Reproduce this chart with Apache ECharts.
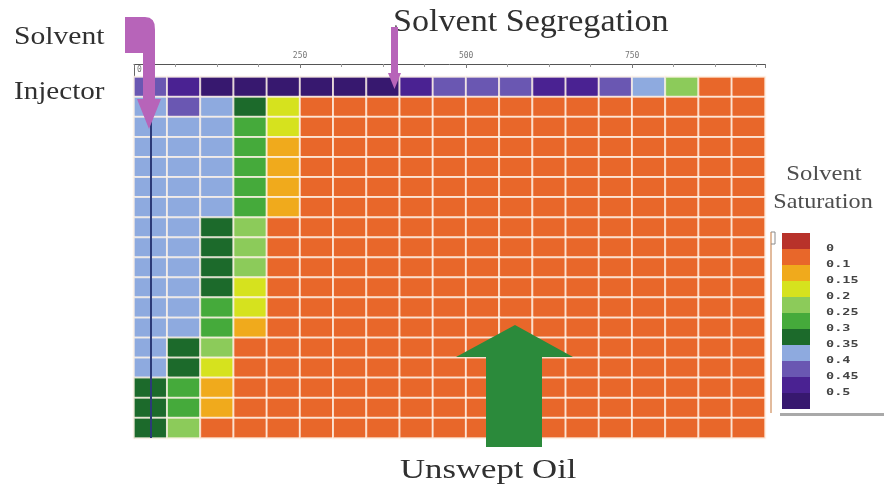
<!DOCTYPE html>
<html>
<head>
<meta charset="utf-8">
<script src="https://cdn.jsdelivr.net/npm/echarts@6/dist/echarts.min.js"></script>
<style>
  html, body { margin: 0; padding: 0; background: #ffffff; }
  #chart { width: 885px; height: 488px; }
</style>
</head>
<body>
<div id="chart"></div>
<script>
// Saturation band boundaries (legend labels) and band colours, top of legend first
const bandLabels = ['0', '0.1', '0.15', '0.2', '0.25', '0.3', '0.35', '0.4', '0.45', '0.5'];
const bandBounds = [0, 0.1, 0.15, 0.2, 0.25, 0.3, 0.35, 0.4, 0.45, 0.5];
const bandColors = ['#b8322a', '#e8672a', '#f0aa1c', '#d6e21e', '#8ccb5a', '#45aa3b',
                    '#1c6a2b', '#8eaadf', '#6a57b2', '#4a2292', '#37186f'];

// Grid blocks: 19 columns across, 18 layers from top to bottom
const columns = ['1','2','3','4','5','6','7','8','9','10','11','12','13','14','15','16','17','18','19'];
const layers = ['1','2','3','4','5','6','7','8','9','10','11','12','13','14','15','16','17','18'];

// Top distance scale (ft)
const distanceMax = 950;
const distanceStep = 250;

// Solvent saturation in each block, one row per layer (top layer first)
const saturation = [
  [0.42,0.47,0.55,0.55,0.55,0.55,0.55,0.55,0.47,0.42,0.42,0.42,0.47,0.47,0.42,0.37,0.22,0.05,0.05],
  [0.37,0.42,0.37,0.32,0.17,0.05,0.05,0.05,0.05,0.05,0.05,0.05,0.05,0.05,0.05,0.05,0.05,0.05,0.05],
  [0.37,0.37,0.37,0.27,0.17,0.05,0.05,0.05,0.05,0.05,0.05,0.05,0.05,0.05,0.05,0.05,0.05,0.05,0.05],
  [0.37,0.37,0.37,0.27,0.12,0.05,0.05,0.05,0.05,0.05,0.05,0.05,0.05,0.05,0.05,0.05,0.05,0.05,0.05],
  [0.37,0.37,0.37,0.27,0.12,0.05,0.05,0.05,0.05,0.05,0.05,0.05,0.05,0.05,0.05,0.05,0.05,0.05,0.05],
  [0.37,0.37,0.37,0.27,0.12,0.05,0.05,0.05,0.05,0.05,0.05,0.05,0.05,0.05,0.05,0.05,0.05,0.05,0.05],
  [0.37,0.37,0.37,0.27,0.12,0.05,0.05,0.05,0.05,0.05,0.05,0.05,0.05,0.05,0.05,0.05,0.05,0.05,0.05],
  [0.37,0.37,0.32,0.22,0.05,0.05,0.05,0.05,0.05,0.05,0.05,0.05,0.05,0.05,0.05,0.05,0.05,0.05,0.05],
  [0.37,0.37,0.32,0.22,0.05,0.05,0.05,0.05,0.05,0.05,0.05,0.05,0.05,0.05,0.05,0.05,0.05,0.05,0.05],
  [0.37,0.37,0.32,0.22,0.05,0.05,0.05,0.05,0.05,0.05,0.05,0.05,0.05,0.05,0.05,0.05,0.05,0.05,0.05],
  [0.37,0.37,0.32,0.17,0.05,0.05,0.05,0.05,0.05,0.05,0.05,0.05,0.05,0.05,0.05,0.05,0.05,0.05,0.05],
  [0.37,0.37,0.27,0.17,0.05,0.05,0.05,0.05,0.05,0.05,0.05,0.05,0.05,0.05,0.05,0.05,0.05,0.05,0.05],
  [0.37,0.37,0.27,0.12,0.05,0.05,0.05,0.05,0.05,0.05,0.05,0.05,0.05,0.05,0.05,0.05,0.05,0.05,0.05],
  [0.37,0.32,0.22,0.05,0.05,0.05,0.05,0.05,0.05,0.05,0.05,0.05,0.05,0.05,0.05,0.05,0.05,0.05,0.05],
  [0.37,0.32,0.17,0.05,0.05,0.05,0.05,0.05,0.05,0.05,0.05,0.05,0.05,0.05,0.05,0.05,0.05,0.05,0.05],
  [0.32,0.27,0.12,0.05,0.05,0.05,0.05,0.05,0.05,0.05,0.05,0.05,0.05,0.05,0.05,0.05,0.05,0.05,0.05],
  [0.32,0.27,0.12,0.05,0.05,0.05,0.05,0.05,0.05,0.05,0.05,0.05,0.05,0.05,0.05,0.05,0.05,0.05,0.05],
  [0.32,0.22,0.05,0.05,0.05,0.05,0.05,0.05,0.05,0.05,0.05,0.05,0.05,0.05,0.05,0.05,0.05,0.05,0.05]
];

// Heatmap triples [column, layer, saturation]
const cells = [];
saturation.forEach((row, li) => row.forEach((v, ci) => cells.push([ci, li, v])));

// Piecewise colour bands: <=0, (0,0.1], ..., (0.45,0.5], >0.5
const pieces = bandColors.map((color, i) => {
  if (i === 0) return { lte: bandBounds[0], color };
  if (i === bandColors.length - 1) return { gt: bandBounds[bandBounds.length - 1], color };
  return { gt: bandBounds[i - 1], lte: bandBounds[i], color };
});

const serif = '"Liberation Serif", "Times New Roman", serif';
const mono = '"DejaVu Sans Mono", monospace';

// Colour key drawn beside the grid
const keyX = 782, keyTop = 233, keyH = 16, keyW = 28;
const keyGraphics = [];
bandColors.forEach((c, i) => {
  keyGraphics.push({ type: 'rect', shape: { x: keyX, y: keyTop + i * keyH, width: keyW, height: keyH },
    style: { fill: c } });
});
bandLabels.forEach((t, i) => {
  keyGraphics.push({ type: 'text', x: 826, y: keyTop + (i + 1) * keyH, scaleX: 1.5,
    style: { text: t, font: 'bold 9px ' + mono, fill: '#444', verticalAlign: 'middle', align: 'left' } });
});
keyGraphics.push(
  { type: 'line', shape: { x1: 771, y1: 232, x2: 771, y2: 413 }, style: { stroke: '#d9a47c', lineWidth: 1.5 } },
  { type: 'polyline', shape: { points: [[771, 232], [775, 232], [775, 244], [771, 244]] }, style: { stroke: '#8a8a8a', lineWidth: 1, fill: null } },
  { type: 'rect', shape: { x: 780, y: 413, width: 104, height: 3 }, style: { fill: '#a9a9a9' } },
  { type: 'text', x: 824, y: 174, scaleX: 1.12,
    style: { text: 'Solvent', font: '22px ' + serif, fill: '#4e4e4e', align: 'center', verticalAlign: 'middle' } },
  { type: 'text', x: 823, y: 202, scaleX: 1.1,
    style: { text: 'Saturation', font: '22px ' + serif, fill: '#4e4e4e', align: 'center', verticalAlign: 'middle' } }
);

// Annotation arrows and captions
const noteGraphics = [
  // bent injection arrow
  { type: 'polygon', z: 20, style: { fill: '#b764b9' },
    shape: { points: [[125, 17], [145, 17], [149.5, 17.8], [152.8, 20.2], [154.5, 24], [155, 30], [155, 99], [161, 99],
                      [149, 129], [137, 99], [143, 99], [143, 53], [125, 53]] } },
  // segregation arrow
  { type: 'polygon', z: 20, style: { fill: '#b764b9' },
    shape: { points: [[391, 27], [398, 27], [398, 73], [401, 73], [394.5, 89], [388, 73], [391, 73]] } },
  // unswept-oil arrow
  { type: 'polygon', z: 20, style: { fill: '#2b8a3b' },
    shape: { points: [[515, 325], [573, 357], [542, 357], [542, 447], [486, 447], [486, 357], [456, 357]] } },
  // axis frame corner at top left
  { type: 'line', shape: { x1: 134.5, y1: 64, x2: 134.5, y2: 77 }, style: { stroke: '#666', lineWidth: 1 } },
  { type: 'text', x: 137, y: 70, style: { text: '0', font: '8px ' + mono, fill: '#777', verticalAlign: 'middle' } },
  { type: 'text', x: 14, y: 37, scaleX: 1.14,
    style: { text: 'Solvent', font: '26px ' + serif, fill: '#303030', verticalAlign: 'middle' } },
  { type: 'text', x: 14, y: 92, scaleX: 1.12,
    style: { text: 'Injector', font: '26px ' + serif, fill: '#303030', verticalAlign: 'middle' } },
  { type: 'text', x: 393, y: 23, scaleX: 1.1,
    style: { text: 'Solvent Segregation', font: '31px ' + serif, fill: '#303030', verticalAlign: 'middle' } },
  { type: 'text', x: 400, y: 471, scaleX: 1.24,
    style: { text: 'Unswept Oil', font: '28px ' + serif, fill: '#303030', verticalAlign: 'middle' } }
];

const chart = echarts.init(document.getElementById('chart'), null, { renderer: 'canvas' });
chart.setOption({
  animation: false,
  backgroundColor: '#ffffff',
  grid: { left: 134, top: 77, width: 631, height: 361 },
  xAxis: [
    { type: 'category', data: columns, show: false, gridIndex: 0 },
    { type: 'value', position: 'top', offset: 13, min: 0, max: distanceMax, interval: distanceStep, gridIndex: 0,
      axisLine: { show: true, lineStyle: { color: '#555', width: 1 } },
      axisTick: { show: true, inside: true, length: 4, lineStyle: { color: '#777' } },
      minorTick: { show: true, splitNumber: 4, length: 3, lineStyle: { color: '#999' } },
      splitLine: { show: false },
      axisLabel: { show: true, showMinLabel: false, showMaxLabel: false, fontSize: 8, color: '#777', margin: 4,
        fontFamily: mono } }
  ],
  yAxis: {
    type: 'category', data: layers, inverse: true,
    axisLine: { show: true, lineStyle: { color: '#777', width: 1 } },
    axisTick: { show: false }, axisLabel: { show: false }, splitLine: { show: false }
  },
  visualMap: {
    type: 'piecewise', show: false, dimension: 2, seriesIndex: 0, pieces: pieces
  },
  series: [{
    type: 'heatmap',
    xAxisIndex: 0, yAxisIndex: 0,
    data: cells,
    itemStyle: { borderColor: 'rgba(255,244,232,0.8)', borderWidth: 2 },
    emphasis: { disabled: true },
    markLine: {
      silent: true, symbol: 'none', label: { show: false },
      lineStyle: { color: '#2c3a78', width: 2, type: 'solid' },
      data: [{ xAxis: 0 }]
    }
  }],
  graphic: keyGraphics.concat(noteGraphics)
});
</script>
</body>
</html>
